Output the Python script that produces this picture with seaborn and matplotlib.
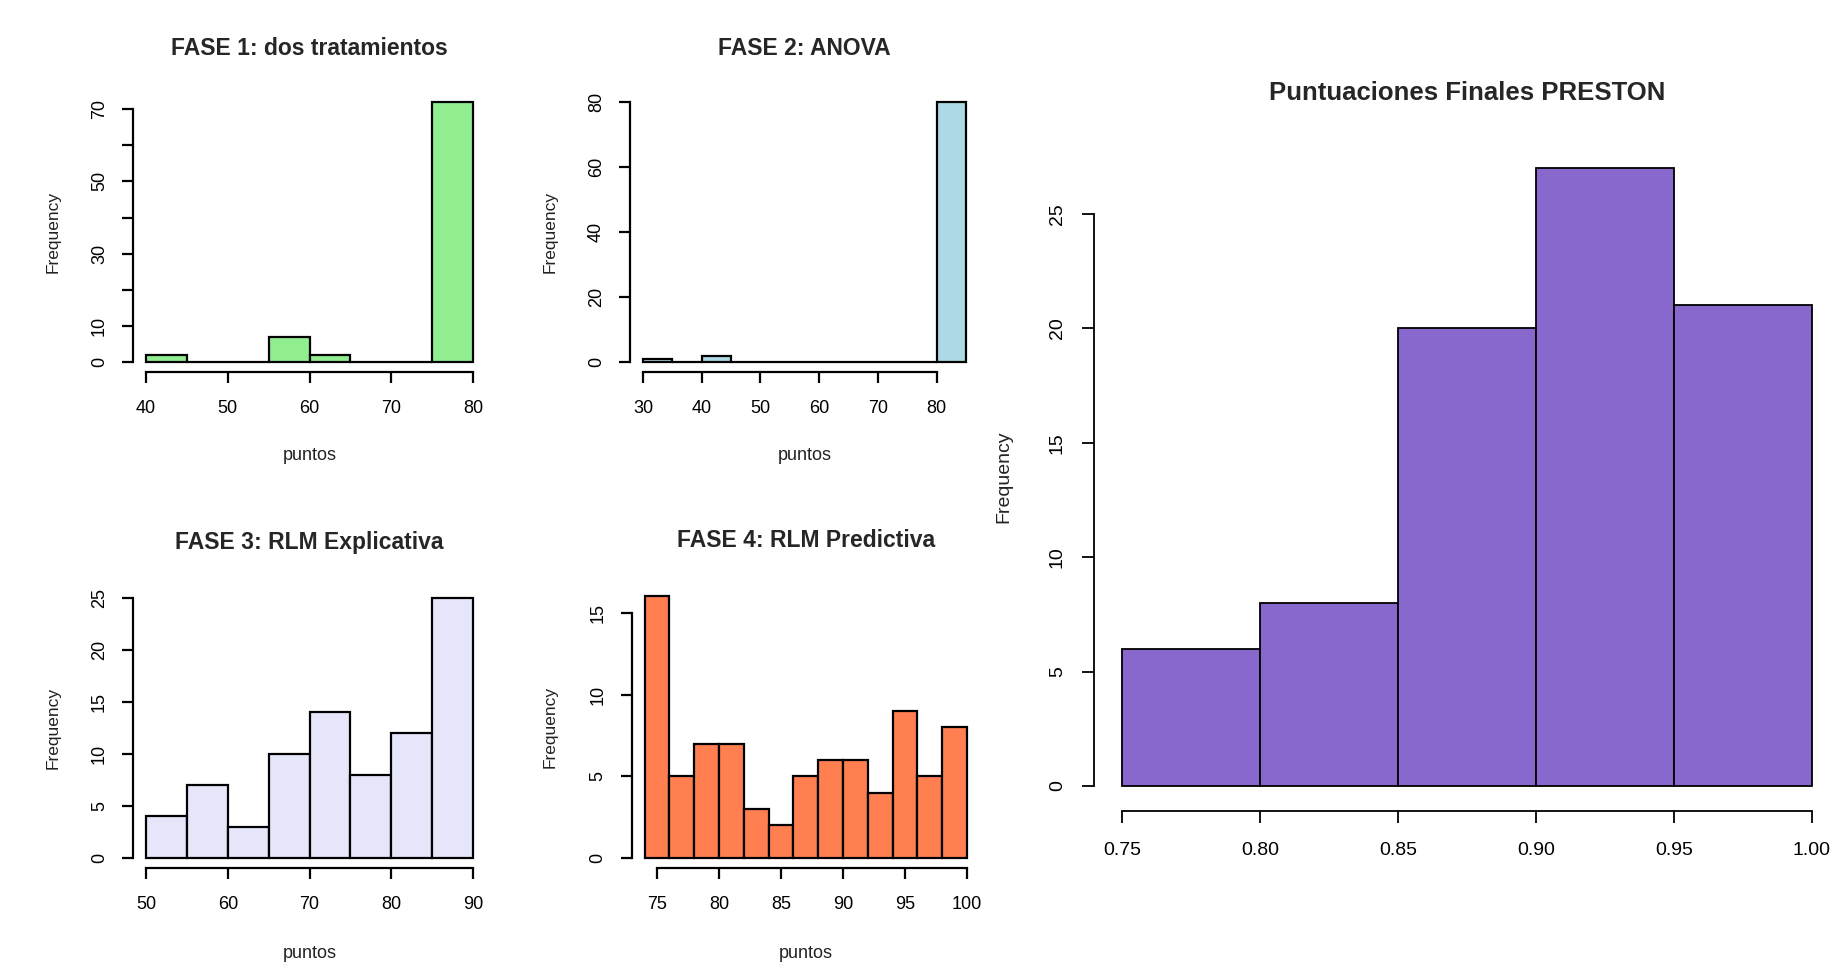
import numpy as np
import pandas as pd
import matplotlib
matplotlib.use("Agg")
import matplotlib.pyplot as plt
import seaborn as sns
from matplotlib import font_manager
from matplotlib.ticker import FixedLocator, FixedFormatter

# ---------------- data ----------------
f1_edges = [40, 45, 50, 55, 60, 65, 70, 75, 80]
f1_counts = [2, 0, 0, 7, 2, 0, 0, 72]

f2_edges = [30, 35, 40, 45, 50, 55, 60, 65, 70, 75, 80, 85]
f2_counts = [1, 0, 2, 0, 0, 0, 0, 0, 0, 0, 80]

f3_edges = [50, 55, 60, 65, 70, 75, 80, 85, 90]
f3_counts = [4, 7, 3, 10, 14, 8, 12, 25]

f4_edges = [74, 76, 78, 80, 82, 84, 86, 88, 90, 92, 94, 96, 98, 100]
f4_counts = [16, 5, 7, 7, 3, 2, 5, 6, 6, 4, 9, 5, 8]

pr_edges = [0.75, 0.80, 0.85, 0.90, 0.95, 1.00]
pr_counts = [6, 8, 20, 27, 21]

titles = ["FASE 1: dos tratamientos", "FASE 2: ANOVA",
          "FASE 3: RLM Explicativa", "FASE 4: RLM Predictiva",
          "Puntuaciones Finales PRESTON"]

f1_xticks = [40, 50, 60, 70, 80]
f1_yticks = [0, 10, 20, 30, 40, 50, 60, 70]
f1_ylabels = ["0", "10", "", "30", "", "50", "", "70"]
f2_xticks = [30, 40, 50, 60, 70, 80]
f2_yticks = [0, 20, 40, 60, 80]
f3_xticks = [50, 60, 70, 80, 90]
f3_yticks = [0, 5, 10, 15, 20, 25]
f4_xticks = [75, 80, 85, 90, 95, 100]
f4_yticks = [0, 5, 10, 15]
pr_xticks = [0.75, 0.80, 0.85, 0.90, 0.95, 1.00]
pr_xlabels = ["0.75", "0.80", "0.85", "0.90", "0.95", "1.00"]
pr_yticks = [0, 5, 10, 15, 20, 25]

colors = ["#90EE90", "#ADD8E6", "#E6E6FA", "#FF7F50", "#8968CD"]

# ---------------- style ----------------
sns.set_theme(style="ticks")
plt.rcParams["font.family"] = ["Liberation Sans", "DejaVu Sans"]
avail = {f.name for f in font_manager.fontManager.ttflist}
narrow = "Liberation Sans Narrow" if "Liberation Sans Narrow" in avail else "Liberation Sans"

W, H = 1833, 964
fig = plt.figure(figsize=(W / 100, H / 100), dpi=100)


def add_axes_px(left, top, right, bottom):
    return fig.add_axes([left / W, 1 - bottom / H, (right - left) / W, (bottom - top) / H])


def draw(ax, edges, counts, color, xticks, yticks, ylabels=None, xlabels=None,
         lw=1.6, tick_fs=13, tick_len=8, pad=12):
    e = [float(v) for v in edges]
    centers = [(a + b) / 2 for a, b in zip(e[:-1], e[1:])]
    df = pd.DataFrame({"x": centers, "w": [float(c) for c in counts]})
    sns.histplot(data=df, x="x", weights="w", bins=e, color=color, alpha=1,
                 edgecolor="black", linewidth=lw, ax=ax)
    span = e[-1] - e[0]
    ax.set_xlim(e[0] - 0.04 * span, e[-1] + 0.04 * span)
    ymax = max(counts)
    ax.set_ylim(-0.04 * ymax, 1.04 * ymax)
    ax.xaxis.set_major_locator(FixedLocator(xticks))
    ax.yaxis.set_major_locator(FixedLocator(yticks))
    if xlabels is not None:
        ax.xaxis.set_major_formatter(FixedFormatter(xlabels))
    if ylabels is not None:
        ax.yaxis.set_major_formatter(FixedFormatter(ylabels))
    for s in ("top", "right"):
        ax.spines[s].set_visible(False)
    ax.spines["left"].set_bounds(yticks[0], yticks[-1])
    ax.spines["bottom"].set_bounds(xticks[0], xticks[-1])
    for s in ("left", "bottom"):
        ax.spines[s].set_linewidth(lw)
        ax.spines[s].set_color("black")
    ax.tick_params(axis="both", direction="out", length=tick_len, width=lw,
                   labelsize=tick_fs, pad=pad, colors="black")
    ax.tick_params(axis="y", pad=pad - 2)
    for lab in ax.get_yticklabels():
        lab.set_rotation(90)
        lab.set_va("center")
    ax.set_facecolor("white")


def labels(ax, box, xlab_y, ylab_x, xlab=True, fs=12.5):
    left, top, right, bottom = box
    w = right - left
    h = bottom - top
    if xlab:
        ax.set_xlabel("puntos", fontsize=fs + 0.5, color="#222222")
        ax.xaxis.set_label_coords(0.5, (bottom - xlab_y) / h)
        ax.xaxis.label.set_va("center")
    else:
        ax.set_xlabel("")
    ax.set_ylabel("Frequency", fontsize=fs, color="#222222")
    ax.yaxis.set_label_coords((ylab_x - left) / w, 0.5)
    ax.yaxis.label.set_va("center")


TFS = 16.5

# Panel 1
b1 = (133, 91.5, 486, 372.4)
ax1 = add_axes_px(*b1)
draw(ax1, f1_edges, f1_counts, colors[0], f1_xticks, f1_yticks, ylabels=f1_ylabels)
ax1.set_title(titles[0], fontsize=TFS, fontweight="bold", pad=26)
labels(ax1, b1, 455, 53)

# Panel 2
b2 = (630, 91.6, 979, 372.4)
ax2 = add_axes_px(*b2)
draw(ax2, f2_edges, f2_counts, colors[1], f2_xticks, f2_yticks)
ax2.set_title(titles[1], fontsize=TFS, fontweight="bold", pad=26)
labels(ax2, b2, 455, 550)

# Panel 3
b3 = (133, 587.6, 486, 868.4)
ax3 = add_axes_px(*b3)
draw(ax3, f3_edges, f3_counts, colors[2], f3_xticks, f3_yticks)
ax3.set_title(titles[2], fontsize=TFS, fontweight="bold", pad=27.5)
labels(ax3, b3, 953, 53)

# Panel 4
b4 = (631.7, 586, 980, 868.4)
ax4 = add_axes_px(*b4)
draw(ax4, f4_edges, f4_counts, colors[3], f4_xticks, f4_yticks)
ax4.set_title(titles[3], fontsize=TFS, fontweight="bold", pad=28)
labels(ax4, b4, 953, 550)

# Big panel
b5 = (1094.4, 143.5, 1839.6, 810.7)
ax5 = add_axes_px(*b5)
draw(ax5, pr_edges, pr_counts, colors[4], pr_xticks, pr_yticks, xlabels=pr_xlabels,
     lw=1.3, tick_fs=14, tick_len=8.5, pad=14)
ax5.set_title(titles[4], fontsize=18.5, fontweight="bold", pad=31, family=[narrow, "DejaVu Sans"])
for lab in ax5.get_xticklabels():
    lab.set_family([narrow, "DejaVu Sans"])
labels(ax5, b5, 0, 1004, xlab=False, fs=14)

fig.savefig("out.png", dpi=100, facecolor="white")
